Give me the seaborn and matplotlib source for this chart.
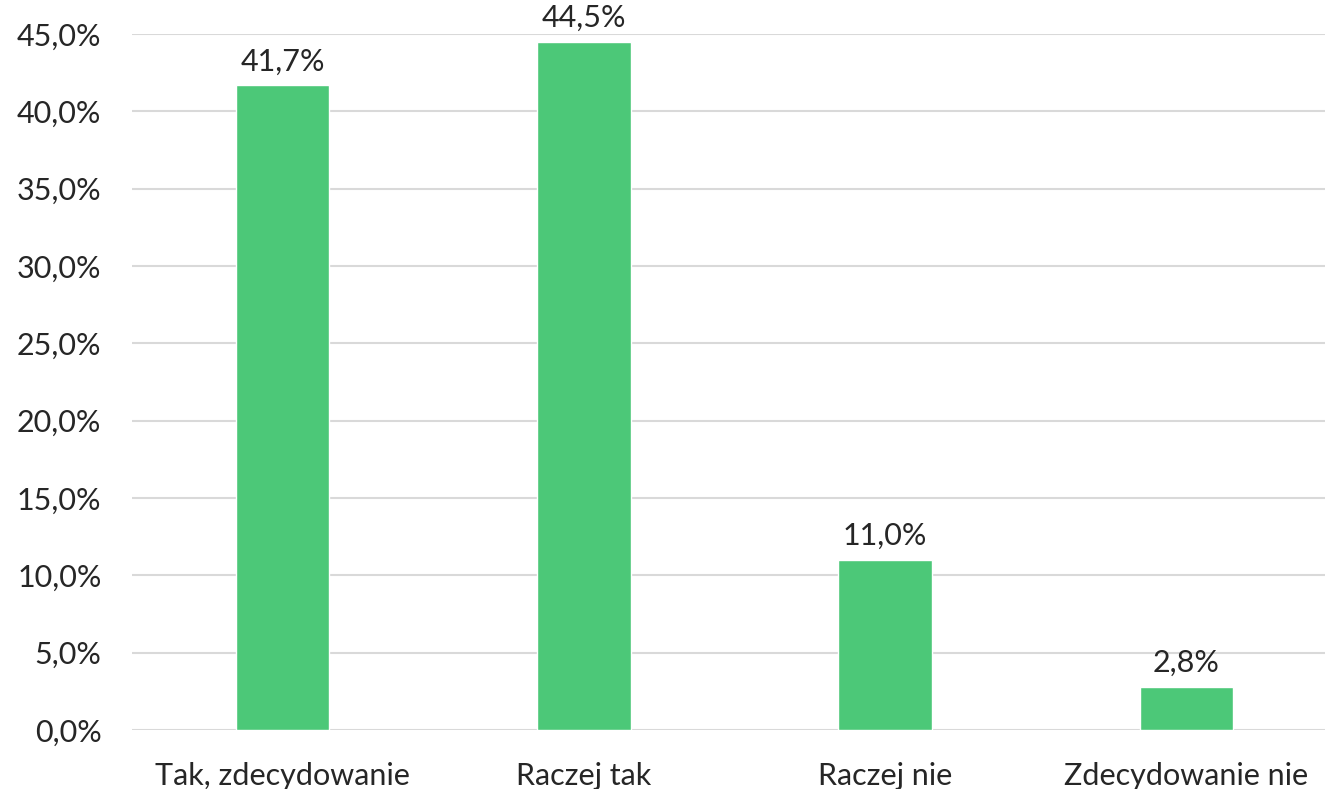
import matplotlib
matplotlib.use('Agg')
import matplotlib.pyplot as plt
import pandas as pd
import seaborn as sns

categories = ['Tak, zdecydowanie', 'Raczej tak', 'Raczej nie', 'Zdecydowanie nie']
values = [41.7, 44.5, 11.0, 2.8]
yticks = [0, 5, 10, 15, 20, 25, 30, 35, 40, 45]

sns.set_theme(style='white')
plt.rcParams['font.family'] = ['Lato', 'DejaVu Sans']

df = pd.DataFrame({'odp': categories, 'proc': values})

fig = plt.figure(figsize=(13.25, 7.89), dpi=100)
# axes wider than the figure on the right, like the cropped original
ax = fig.add_axes([132 / 1325, 59 / 789, 1205 / 1325, 696 / 789])

sns.barplot(data=df, x='odp', y='proc', color='#4cc878', saturation=1,
            width=0.31, ax=ax, zorder=3)

ax.set_ylim(0, 45)
ax.set_xlim(-0.5, 3.5)
ax.set_yticks(yticks)
ax.set_yticklabels(['{:.1f}%'.format(t).replace('.', ',') for t in yticks])
ax.grid(axis='y', color='#d9d9d9', linewidth=1.5, zorder=0)
ax.set_xlabel('')
ax.set_ylabel('')
for s in ax.spines.values():
    s.set_visible(False)
ax.tick_params(axis='both', length=0, labelsize=22, colors='#262626')
ax.tick_params(axis='x', pad=23)
ax.tick_params(axis='y', pad=22)

for c in ax.containers:
    ax.bar_label(c, labels=['{:.1f}%'.format(v).replace('.', ',') for v in values],
                 padding=7, fontsize=22, color='#262626')

fig.savefig('out.png', dpi=100)
